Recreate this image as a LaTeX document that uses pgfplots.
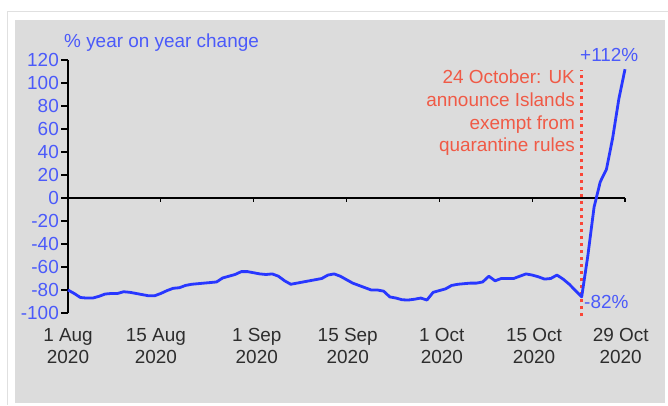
\documentclass[border=0pt]{standalone}
\usepackage{pgfplots}
\pgfplotsset{compat=1.18}
\usepackage{fontspec}
\setmainfont{Liberation Sans}
\definecolor{panel}{RGB}{220,220,220}
\definecolor{lineblue}{RGB}{40,55,255}
\definecolor{txtblue}{RGB}{75,90,250}
\definecolor{annred}{RGB}{240,90,70}
\definecolor{dotred}{RGB}{250,70,55}
\definecolor{labgray}{RGB}{45,45,45}
\newcommand{\cf}{\fontsize{19}{22.5}\selectfont}
\pgfplotstableread{
i v
0 -80
1 -83
2 -86.5
3 -87
4 -87
5 -85.5
6 -83.5
7 -83
8 -83
9 -81.5
10 -82
11 -83
12 -84
13 -85
14 -85
15 -83
16 -80.5
17 -78.5
18 -78
19 -76
20 -75
21 -74.5
22 -74
23 -73.5
24 -73
25 -69.5
26 -68
27 -66.5
28 -64
29 -64
30 -65
31 -66
32 -66.5
33 -66
34 -68
35 -72
36 -75
37 -74
38 -73
39 -72
40 -71
41 -70
42 -67
43 -66
44 -68
45 -71
46 -74
47 -76
48 -78
49 -80
50 -80
51 -81
52 -86
53 -87
54 -88.5
55 -88.7
56 -88
57 -87
58 -88.7
59 -82
60 -80.5
61 -79
62 -76
63 -75
64 -74.5
65 -74
66 -74
67 -73
68 -68
69 -72
70 -70
71 -70
72 -70
73 -68
74 -66
75 -67
76 -68.5
77 -70.5
78 -70
79 -67
80 -70.5
81 -75
82 -80.5
83 -86
84 -50
85 -8
86 14
87 25
88 52
89 86
90 112
}\datatable
\begin{document}
\begin{tikzpicture}[x=1bp,y=1bp]
\useasboundingbox (0,0) rectangle (668,-405);
\fill[white] (0,0) rectangle (668,-405);
\draw[black!12, line width=1bp] (7,-405) -- (7,-11) -- (668,-11);
\fill[panel] (15,-20) rectangle (665,-402.5);
\begin{axis}[
  at={(68bp,-313bp)}, anchor=south west,
  scale only axis, width=557bp, height=253bp,
  xmin=0, xmax=90, ymin=-100, ymax=120,
  axis x line*=bottom, axis y line*=left,
  x axis line style={draw=none},
  y axis line style={black, line width=1.5bp},
  ytick={-100,-80,...,120},
  ytick style={draw=none},
  xtick={0,14.2,30.5,45.2,60.4,75.3,89.3},
  xticklabels={{1 Aug\\2020},{15 Aug\\2020},{1 Sep\\2020},{15 Sep\\2020},{1 Oct\\2020},{15 Oct\\2020},{29 Oct\\2020}},
  xtick style={draw=none},
  xticklabel style={align=center, text=labgray, font=\cf, inner sep=0pt, yshift=-15bp},
  yticklabel style={text=txtblue, font=\cf, inner sep=0pt, xshift=-9bp},
  /pgf/number format/assume math mode=true,
  clip=false,
]
\pgfplotsinvokeforeach{-100,-80,-60,-40,-20,0,20,40,60,80,100,120}{
  \draw[black, line width=1.3bp] (axis cs:0,#1) -- ([xshift=-7bp]axis cs:0,#1);
}
\draw[black, line width=1.5bp] (axis cs:0,0) -- (axis cs:90,0);
\pgfplotsinvokeforeach{15,30,45,60,75,90}{
  \draw[black, line width=1.3bp] (axis cs:#1,0) -- ([yshift=-4bp]axis cs:#1,0);
}
\draw[dotred, line width=2.6bp, dash pattern=on 3.5bp off 3.5bp] (axis cs:83,-103) -- (axis cs:83,111);
\addplot[lineblue, line width=2.8bp, line join=round, mark=none] table[x=i, y=v] {\datatable};
\end{axis}
\node[anchor=base west, inner sep=0, text=txtblue, font=\cf] at (64,-47) {\% year on year change};
\node[anchor=base west, inner sep=0, text=txtblue, font=\cf] at (580,-61) {+112\%};
\node[anchor=base west, inner sep=0, text=txtblue, font=\cf] at (584,-308) {-82\%};
\node[anchor=base east, inner sep=0, text=annred, font=\cf] at (575,-83.5) {24 October: UK};
\node[anchor=base east, inner sep=0, text=annred, font=\cf] at (575,-106.5) {announce Islands};
\node[anchor=base east, inner sep=0, text=annred, font=\cf] at (575,-129) {exempt from};
\node[anchor=base east, inner sep=0, text=annred, font=\cf] at (575,-151.5) {quarantine rules};
\end{tikzpicture}
\end{document}
